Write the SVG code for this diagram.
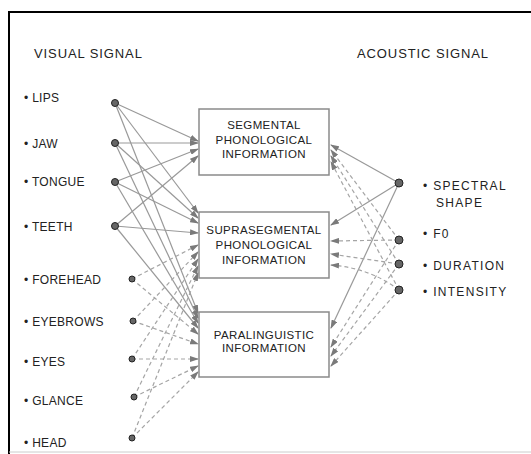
<svg xmlns="http://www.w3.org/2000/svg" width="531" height="454" viewBox="0 0 531 454">
<style>
text{font-family:"Liberation Sans",Arial,sans-serif;fill:#222}
.t{font-size:13px;letter-spacing:0.9px}
.lbl{font-size:12px;letter-spacing:0.3px}
.r{font-size:12px;letter-spacing:1.3px}
.b{font-size:11.5px;text-anchor:middle;letter-spacing:0.4px}
.box{fill:#fff;stroke:#8a8a8a;stroke-width:1.5}
.s{stroke:#999;stroke-width:1.2;fill:none;marker-end:url(#ah)}
.d{stroke:#a5a5a5;stroke-width:1.2;fill:none;stroke-dasharray:4 3;marker-end:url(#ah)}
.dot{fill:#666;stroke:#222;stroke-width:1}
</style>
<defs>
<marker id="ah" markerWidth="9" markerHeight="6" refX="8" refY="3" orient="auto" markerUnits="userSpaceOnUse">
<path d="M0,0 L9,3 L0,6 Z" fill="#7a7a7a"/>
</marker>
</defs>
<rect width="531" height="454" fill="#fff"/>
<g id="frame">
<line x1="9" y1="12" x2="531" y2="12" stroke="#000" stroke-width="2"/>
<line x1="9" y1="11" x2="9" y2="454" stroke="#000" stroke-width="2"/>
<line x1="9" y1="452" x2="531" y2="452" stroke="#ccc" stroke-width="1"/>
</g>
<text class="t" x="34" y="58">VISUAL SIGNAL</text>
<text class="t" x="357" y="58">ACOUSTIC SIGNAL</text>
<g id="connectors">
<line class="s" x1="115" y1="103" x2="198" y2="141"/>
<line class="s" x1="115" y1="103" x2="198" y2="213"/>
<line class="s" x1="115" y1="103" x2="198" y2="313"/>
<line class="s" x1="115" y1="143" x2="198" y2="143"/>
<line class="s" x1="115" y1="143" x2="198" y2="218"/>
<line class="s" x1="115" y1="143" x2="198" y2="318"/>
<line class="s" x1="115" y1="182" x2="198" y2="149"/>
<line class="s" x1="115" y1="182" x2="198" y2="223"/>
<line class="s" x1="115" y1="182" x2="198" y2="323"/>
<line class="s" x1="115" y1="226" x2="198" y2="156"/>
<line class="s" x1="115" y1="226" x2="198" y2="233"/>
<line class="s" x1="115" y1="226" x2="198" y2="328"/>
<line class="d" x1="132" y1="279" x2="198" y2="245"/>
<line class="d" x1="132" y1="279" x2="198" y2="334"/>
<line class="d" x1="133" y1="321" x2="198" y2="252"/>
<line class="d" x1="133" y1="321" x2="198" y2="344"/>
<line class="d" x1="132" y1="359" x2="198" y2="259"/>
<line class="d" x1="132" y1="359" x2="198" y2="359"/>
<line class="d" x1="134" y1="397" x2="198" y2="266"/>
<line class="d" x1="134" y1="397" x2="198" y2="366"/>
<line class="d" x1="132" y1="438" x2="198" y2="273"/>
<line class="d" x1="132" y1="438" x2="198" y2="372"/>
<line class="s" x1="399" y1="183" x2="331" y2="145"/>
<line class="s" x1="399" y1="183" x2="331" y2="225"/>
<line class="s" x1="399" y1="183" x2="331" y2="328"/>
<line class="d" x1="399" y1="240" x2="331" y2="150"/>
<line class="d" x1="399" y1="240" x2="331" y2="241"/>
<line class="d" x1="399" y1="240" x2="331" y2="347"/>
<line class="d" x1="399" y1="264" x2="331" y2="156"/>
<line class="d" x1="399" y1="264" x2="331" y2="254"/>
<line class="d" x1="399" y1="264" x2="331" y2="356"/>
<line class="d" x1="399" y1="290" x2="331" y2="162"/>
<path class="d" d="M399,290 Q370,268 331,265"/>
<line class="d" x1="399" y1="290" x2="331" y2="366"/>
</g>
<g id="segmental">
<rect class="box" x="199" y="109" width="130" height="66"/>
<text class="b" x="264" y="129">SEGMENTAL</text>
<text class="b" x="264" y="144">PHONOLOGICAL</text>
<text class="b" x="264" y="158">INFORMATION</text>
</g>
<g id="suprasegmental">
<rect class="box" x="199" y="212" width="130" height="66"/>
<text class="b" x="264" y="234">SUPRASEGMENTAL</text>
<text class="b" x="264" y="249">PHONOLOGICAL</text>
<text class="b" x="264" y="264">INFORMATION</text>
</g>
<g id="paralinguistic">
<rect class="box" x="199" y="312" width="130" height="65"/>
<text class="b" x="264" y="339">PARALINGUISTIC</text>
<text class="b" x="264" y="352">INFORMATION</text>
</g>
<g id="lips"><text class="lbl" x="24" y="102">• LIPS</text><circle class="dot" cx="115" cy="103" r="3.5"/></g>
<g id="jaw"><text class="lbl" x="24" y="148">• JAW</text><circle class="dot" cx="115" cy="143" r="3.5"/></g>
<g id="tongue"><text class="lbl" x="24" y="186">• TONGUE</text><circle class="dot" cx="115" cy="182" r="3.5"/></g>
<g id="teeth"><text class="lbl" x="24" y="231">• TEETH</text><circle class="dot" cx="115" cy="226" r="3.5"/></g>
<g id="forehead"><text class="lbl" x="24" y="284">• FOREHEAD</text><circle class="dot" cx="132" cy="279" r="3"/></g>
<g id="eyebrows"><text class="lbl" x="24" y="326">• EYEBROWS</text><circle class="dot" cx="133" cy="321" r="3"/></g>
<g id="eyes"><text class="lbl" x="24" y="366">• EYES</text><circle class="dot" cx="132" cy="359" r="3"/></g>
<g id="glance"><text class="lbl" x="24" y="405">• GLANCE</text><circle class="dot" cx="134" cy="397" r="3"/></g>
<g id="head"><text class="lbl" x="24" y="447">• HEAD</text><circle class="dot" cx="132" cy="438" r="3"/></g>
<g id="spectral"><circle class="dot" cx="399" cy="183" r="4"/><text class="r" x="423" y="190">• SPECTRAL</text><text class="r" x="436" y="207">SHAPE</text></g>
<g id="f0"><circle class="dot" cx="399" cy="240" r="4"/><text class="r" x="423" y="238">• F0</text></g>
<g id="duration"><circle class="dot" cx="399" cy="264" r="4"/><text class="r" x="423" y="270">• DURATION</text></g>
<g id="intensity"><circle class="dot" cx="399" cy="290" r="4"/><text class="r" x="423" y="296">• INTENSITY</text></g>
</svg>
